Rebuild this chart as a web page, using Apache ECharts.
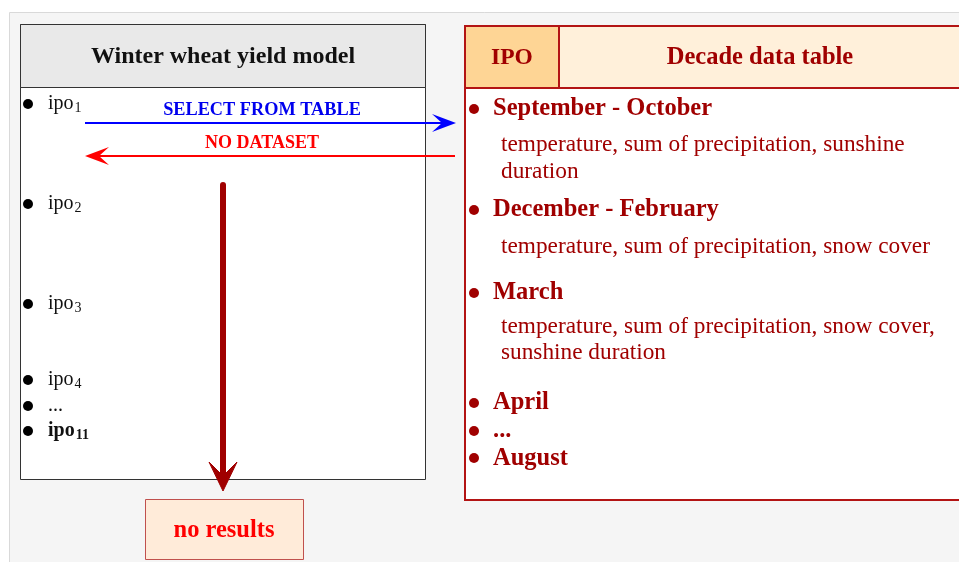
<!DOCTYPE html>
<html>
<head>
<meta charset="utf-8">
<script src="https://cdn.jsdelivr.net/npm/echarts@6/dist/echarts.min.js"></script>
<style>
html,body{margin:0;padding:0;background:#ffffff;}
#main{width:959px;height:562px;}
</style>
</head>
<body>
<div id="main"></div>
<script>
// ---- content (text data) ----
const leftTitle = 'Winter wheat yield model';
const ipoBase = ['ipo', 'ipo', 'ipo', 'ipo', '...', 'ipo'];
const ipoSub = ['1', '2', '3', '4', '', '11'];
const ipoBold = [false, false, false, false, false, true];
const headerIPO = 'IPO';
const headerTable = 'Decade data table';
const periodNames = ['September - October', 'December - February', 'March', 'April', '...', 'August'];
const periodVars = [
  ['temperature, sum of precipitation, sunshine', 'duration'],
  ['temperature, sum of precipitation, snow cover'],
  ['temperature, sum of precipitation, snow cover,', 'sunshine duration'],
  [], [], []
];
const flowLabels = ['SELECT FROM TABLE', 'NO DATASET'];
const resultLabel = 'no results';

// ---- layout (positions kept separate from content) ----
const ipoY = [104, 204, 304, 380, 406, 431];
const periodY = [109, 210, 293, 403, 431, 459];
const bulletY = [109, 210, 293, 403, 431, 458];
const varsY = [[145, 172], [247], [327, 353], [], [], []];

const SERIF = '"Liberation Serif", "Times New Roman", serif';
const DARK = '#a00000';
const BORDER = '#b31414';

const g = [];
// panel
g.push({type:'rect', shape:{x:9.5, y:12.5, width:960, height:560}, style:{fill:'#f5f5f5', stroke:'#d9d9d9', lineWidth:1}});
// left box
g.push({type:'rect', shape:{x:20.5, y:24.5, width:405, height:455}, style:{fill:'#ffffff', stroke:'#333333', lineWidth:1}});
g.push({type:'rect', shape:{x:20.5, y:24.5, width:405, height:63}, style:{fill:'#e9e9e9', stroke:'#333333', lineWidth:1}});
g.push({type:'text', style:{text:leftTitle, x:223, y:57, align:'center', verticalAlign:'middle', font:'bold 24px ' + SERIF, fill:'#111111'}});

ipoBase.forEach(function(b, i){
  g.push({type:'circle', shape:{cx:28, cy:ipoY[i], r:5}, style:{fill:'#000000'}});
  const w = ipoBold[i] ? 'bold' : 'normal';
  g.push({type:'text', style:{
    text:'{b|' + b + '}' + (ipoSub[i] ? '{s|' + ipoSub[i] + '}' : ''),
    x:48, y:ipoY[i], align:'left', verticalAlign:'middle',
    rich:{
      b:{fontSize:20, fontFamily:SERIF, fontWeight:w, fill:'#111111'},
      s:{fontSize:14, fontFamily:SERIF, fontWeight:w, fill:'#111111', padding:[8,0,0,1]}
    }
  }});
});

// right box
g.push({type:'rect', shape:{x:465, y:26, width:497, height:474}, style:{fill:'#ffffff', stroke:BORDER, lineWidth:2}});
g.push({type:'rect', shape:{x:465, y:26, width:94, height:62}, style:{fill:'#fed595', stroke:BORDER, lineWidth:2}});
g.push({type:'rect', shape:{x:559, y:26, width:403, height:62}, style:{fill:'#fff0da', stroke:BORDER, lineWidth:2}});
g.push({type:'text', style:{text:headerIPO, x:512, y:58, align:'center', verticalAlign:'middle', font:'bold 23.5px ' + SERIF, fill:DARK}});
g.push({type:'text', style:{text:headerTable, x:760, y:58, align:'center', verticalAlign:'middle', font:'bold 24.5px ' + SERIF, fill:DARK}});

periodNames.forEach(function(p, i){
  g.push({type:'circle', shape:{cx:474, cy:bulletY[i], r:5}, style:{fill:DARK}});
  g.push({type:'text', style:{text:p, x:493, y:periodY[i], align:'left', verticalAlign:'middle', font:'bold 24.5px ' + SERIF, fill:DARK}});
  periodVars[i].forEach(function(v, j){
    g.push({type:'text', style:{text:v, x:501, y:varsY[i][j], align:'left', verticalAlign:'middle', font:'23.3px ' + SERIF, fill:DARK}});
  });
});

// flow arrows
g.push({type:'line', shape:{x1:85, y1:123, x2:448, y2:123}, style:{stroke:'#0000ff', lineWidth:2}});
g.push({type:'polygon', shape:{points:[[432,114],[456,123],[432,132],[442,123]]}, style:{fill:'#0000ff'}});
g.push({type:'text', style:{text:flowLabels[0], x:262, y:110, align:'center', verticalAlign:'middle', font:'bold 18.3px ' + SERIF, fill:'#0000ee'}});

g.push({type:'line', shape:{x1:455, y1:156, x2:92, y2:156}, style:{stroke:'#ff0000', lineWidth:2}});
g.push({type:'polygon', shape:{points:[[109,147],[85,156],[109,165],[99,156]]}, style:{fill:'#ff0000'}});
g.push({type:'text', style:{text:flowLabels[1], x:262, y:143, align:'center', verticalAlign:'middle', font:'bold 18px ' + SERIF, fill:'#ff0000'}});

// down arrow
g.push({type:'line', shape:{x1:223, y1:185, x2:223, y2:478}, style:{stroke:DARK, lineWidth:6, lineCap:'round'}});
g.push({type:'polygon', shape:{points:[[209,462],[223,491],[237,462],[223,476]]}, style:{fill:DARK, stroke:DARK, lineWidth:1, lineJoin:'round'}});

// result box
g.push({type:'rect', shape:{x:145.5, y:499.5, width:158, height:60}, style:{fill:'#ffebd9', stroke:'#c0504d', lineWidth:1}});
g.push({type:'text', style:{text:resultLabel, x:224, y:531, align:'center', verticalAlign:'middle', font:'bold 24.5px ' + SERIF, fill:'#ff0000'}});

const chart = echarts.init(document.getElementById('main'), null, {renderer:'canvas'});
chart.setOption({backgroundColor:'#ffffff', animation:false, graphic:{elements:g}});
</script>
</body>
</html>
